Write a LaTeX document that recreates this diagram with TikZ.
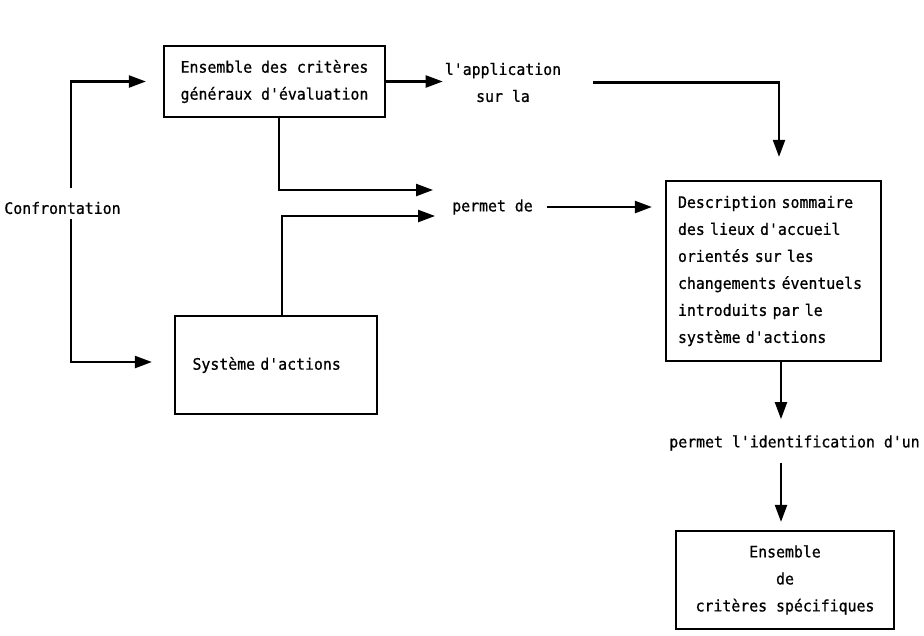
\documentclass[tikz,border=0pt]{standalone}
\usepackage{fontspec}
\setmonofont[FakeBold=0.8,FakeStretch=0.94]{DejaVu Sans Mono}
\usetikzlibrary{arrows.meta}
\begin{document}
\begin{tikzpicture}[x=1pt,y=-1pt,
  every node/.style={font=\ttfamily\fontsize{15.8}{27}\selectfont},
  lbl/.style={inner sep=0pt, align=center},
  boxx/.style={draw, line width=2.2pt, inner sep=0pt},
  arr/.style={line width=2.2pt, -{Triangle[length=17pt,width=12pt]}},
  ln/.style={line width=2.2pt}]
\useasboundingbox (0,0) rectangle (924,635);
% nodes
\node[lbl] (conf) at (62.5,208) {Confrontation};
\node[boxx, minimum width=221pt, minimum height=71pt, align=center] (b1) at (274.5,81.5) {Ensemble des critères\\généraux d'évaluation};
\node[boxx, minimum width=202pt, minimum height=98pt, text width=167pt, align=left, inner xsep=17.5pt] (b2) at (276,365) {Système d'actions};
\node[lbl] (app) at (503,82.5) {l'application\\sur la};
\node[lbl] (per) at (492.5,207) {permet de};
\node[boxx, minimum width=215pt, minimum height=180pt, text width=191pt, align=left, inner xsep=12pt] (b3) at (773.5,271) {Description sommaire\\des lieux d'accueil\\orientés sur les\\changements éventuels\\introduits par le\\système d'actions};
\node[lbl] (ident) at (794.5,443) {permet l'identification d'un};
\node[boxx, minimum width=218pt, minimum height=98pt, align=center] (b4) at (785,580) {Ensemble\\de\\critères spécifiques};
% connectors
\coordinate (c1) at (71,188);
\coordinate (c2) at (71,219);
\draw[arr, shorten >=17pt] (c1) |- (b1.west);
\draw[arr, shorten >=22pt] (c2) |- ([yshift=3pt]b2.west);
\draw[arr, shorten >=2pt] (b1.east) -- (app.west |- b1.east);
\draw[arr, shorten <=32pt] (app.east) -| ([xshift=5.5pt,yshift=23pt]b3.north);
\draw[arr, shorten >=19pt] ([xshift=4.5pt]b1.south) |- ([yshift=17pt]per.west);
\draw[arr, shorten >=17pt] ([xshift=6pt]b2.north) |- ([yshift=-9pt]per.west);
\draw[arr, shorten <=14pt, shorten >=13pt] (per.east) -- (b3.west |- per.east);
\draw[arr, shorten >=16pt] ([xshift=7.5pt]b3.south) -- ([xshift=7.5pt]b3.south |- ident.north);
\draw[arr, shorten <=12pt, shorten >=8pt] ([xshift=-4pt]b4.north |- ident.south) -- ([xshift=-4pt]b4.north);
\end{tikzpicture}
\end{document}
